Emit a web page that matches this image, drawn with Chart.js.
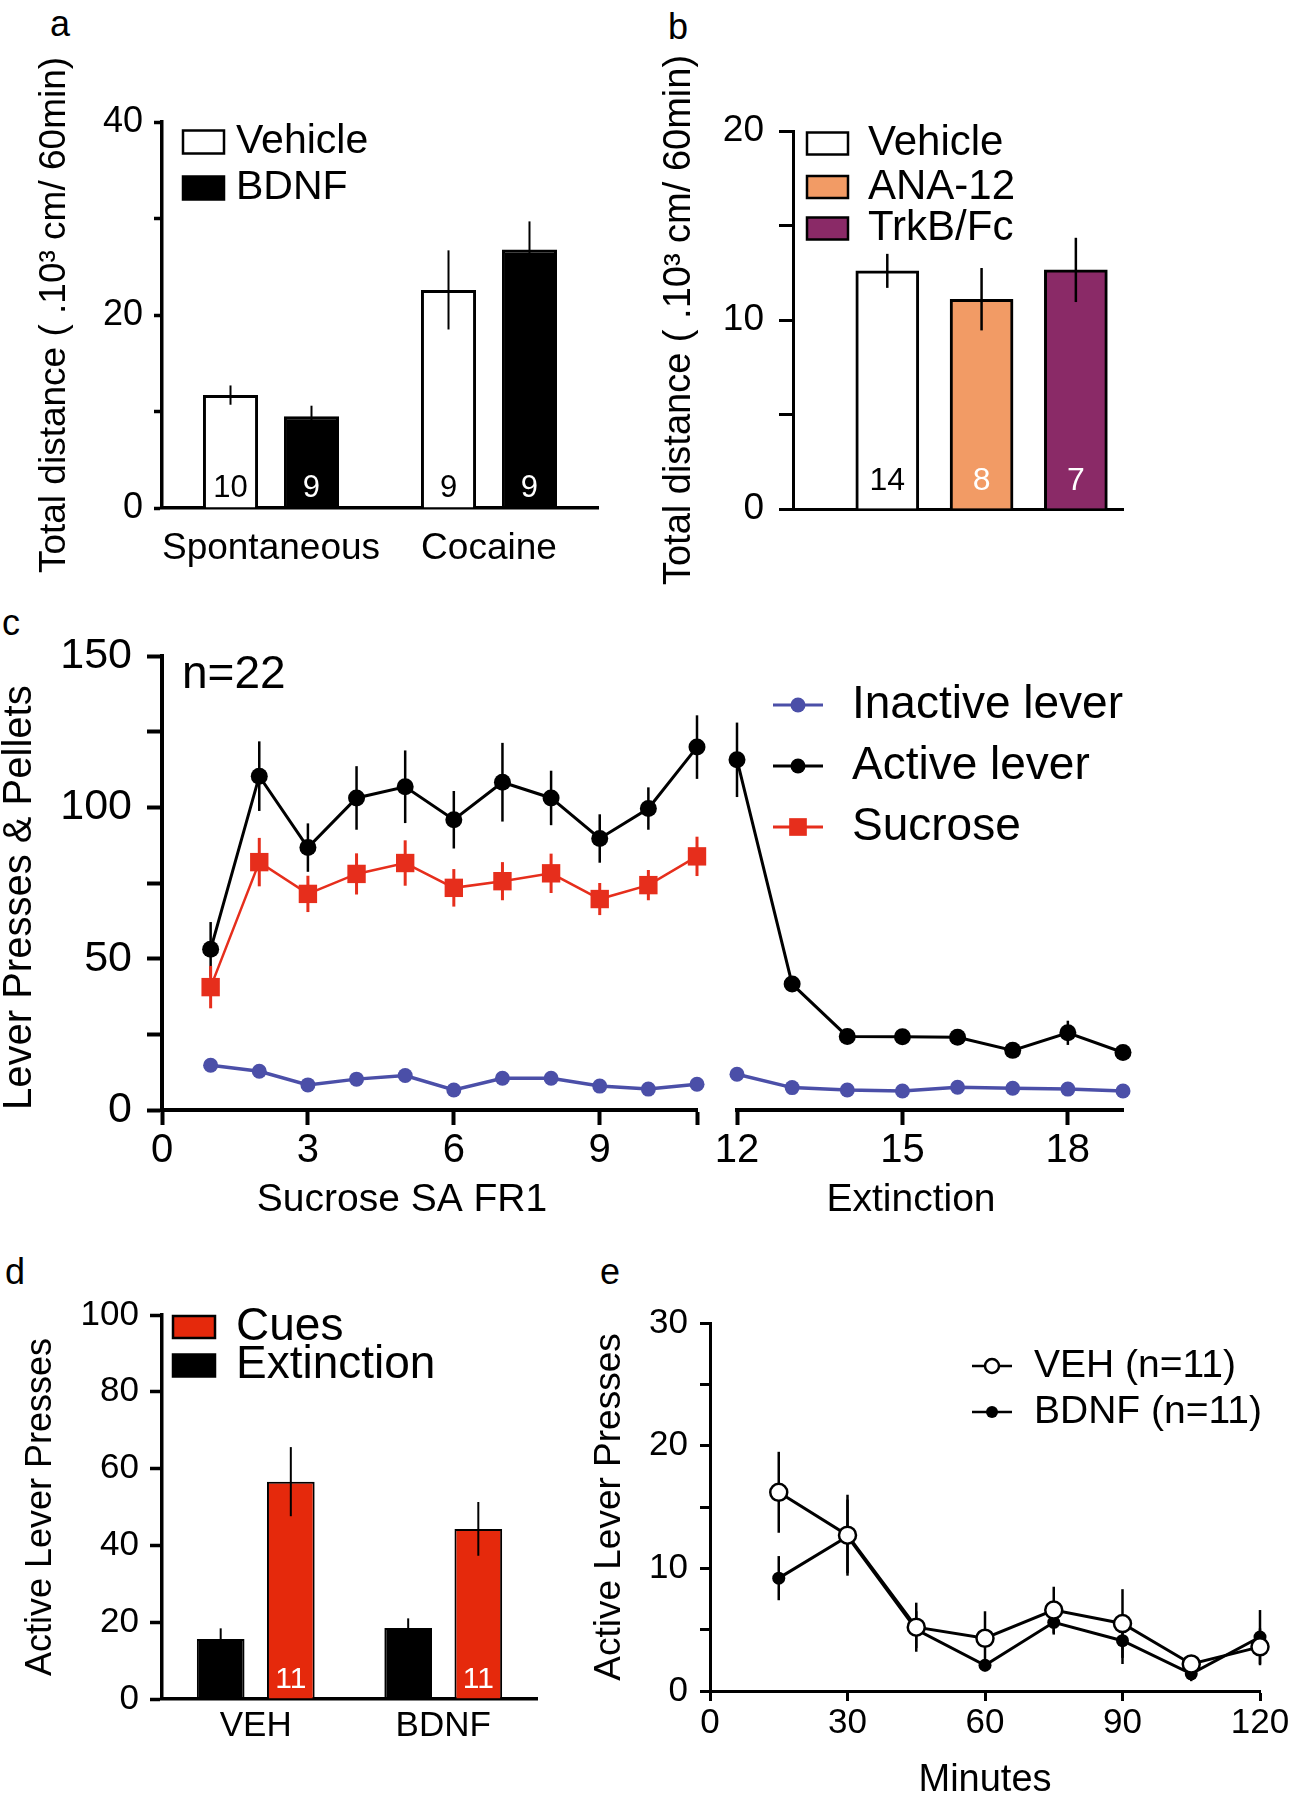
<!DOCTYPE html>
<html lang="en">
<head>
<meta charset="utf-8">
<title>BDNF, locomotion and sucrose seeking</title>
<script src="https://cdn.jsdelivr.net/npm/chart.js@4.4.1/dist/chart.umd.min.js"></script>
<style>
  body { margin: 0; background: #ffffff; }
  #figure { position: relative; width: 1293px; height: 1800px; overflow: hidden; }
  #figure canvas { position: absolute; }
  .letter { position: absolute; font: 36px/36px 'Liberation Sans', Arial, sans-serif; color: #000; }
</style>
</head>
<body>
<div id="figure">
  <div class="letter" style="left:50px;top:6px">a</div>
  <div class="letter" style="left:668px;top:9px">b</div>
  <div class="letter" style="left:2px;top:605px">c</div>
  <div class="letter" style="left:5px;top:1254px">d</div>
  <div class="letter" style="left:600px;top:1254px">e</div>
  <canvas id="chartA" width="640" height="600" style="left:0px;top:0px"></canvas>
  <canvas id="chartB" width="653" height="600" style="left:640px;top:0px"></canvas>
  <canvas id="chartC1" width="717" height="640" style="left:0px;top:600px"></canvas>
  <canvas id="chartC2" width="576" height="640" style="left:717px;top:600px"></canvas>
  <canvas id="chartD" width="560" height="560" style="left:0px;top:1240px"></canvas>
  <canvas id="chartE" width="733" height="560" style="left:560px;top:1240px"></canvas>
</div>
<script>
// ---- panel a: locomotion after intra-accumbens BDNF ----
const aGroups = ['Spontaneous', 'Cocaine'];
const aVehicle = [11.7, 22.6];
const aVehicleSem = [1.0, 4.1];
const aVehicleN = [10, 9];
const aBdnf = [9.5, 26.8];
const aBdnfSem = [1.1, 2.9];
const aBdnfN = [9, 9];
const aYLabels = [0, 20, 40];

// ---- panel b: TrkB blockade ----
const bGroups = ['Vehicle', 'ANA-12', 'TrkB/Fc'];
const bMeans = [12.6, 11.1, 12.65];
const bSem = [0.9, 1.65, 1.7];
const bN = [14, 8, 7];
const bColors = ['#ffffff', '#f29b65', '#8a2a67'];
const bNColors = ['#000000', '#ffffff', '#ffffff'];
const bYLabels = [0, 10, 20];

// ---- panel c: sucrose self-administration then extinction ----
const cSessions = [1, 2, 3, 4, 5, 6, 7, 8, 9, 10, 11, 12, 13, 14, 15, 16, 17, 18, 19];
const cInactive = [14.8, 12.8, 8.3, 10.2, 11.4, 6.6, 10.5, 10.5, 7.9, 6.9, 8.5, 11.8, 7.4, 6.6, 6.3, 7.5, 7.2, 6.9, 6.3];
const cInactiveSem = [1.2, 1.0, 0.8, 0.9, 1.0, 0.7, 0.9, 0.9, 0.8, 0.7, 0.8, 1.0, 0.8, 0.7, 0.7, 0.8, 0.7, 0.7, 0.6];
const cActive = [53.1, 110.3, 86.7, 103.1, 106.8, 95.9, 108.3, 103.1, 89.7, 99.6, 119.9, 115.7, 41.6, 24.3, 24.2, 24.0, 19.7, 25.5, 19.0];
const cActiveSem = [9.0, 11.5, 8.0, 10.5, 12.0, 9.5, 13.0, 9.0, 8.0, 7.0, 10.5, 12.3, 2.5, 1.2, 1.0, 1.0, 1.5, 4.0, 1.2];
const cSucrose = [40.6, 81.9, 71.4, 78.0, 81.6, 73.4, 75.6, 78.2, 69.7, 74.3, 83.8];
const cSucroseSem = [7.0, 8.0, 6.0, 6.8, 7.5, 6.2, 6.3, 6.5, 5.3, 5.0, 6.5];
const cTicksSA = [0, 3, 6, 9];
const cTicksExt = [12, 15, 18];
const cYLabels = [0, 50, 100, 150];
const cSeriesNames = ['Inactive lever', 'Active lever', 'Sucrose'];

// ---- panel d: cue-induced reinstatement ----
const dGroups = ['VEH', 'BDNF'];
const dExtinction = [15.6, 18.5];
const dExtinctionSem = [2.8, 2.5];
const dCues = [56.6, 44.3];
const dCuesSem = [9.0, 7.0];
const dCuesN = [11, 11];
const dYLabels = [0, 20, 40, 60, 80, 100];

// ---- panel e: time course of the reinstatement session ----
const eMinutes = [15, 30, 45, 60, 75, 90, 105, 120];
const eVeh = [16.2, 12.7, 5.2, 4.3, 6.6, 5.5, 2.2, 3.6];
const eVehSem = [3.3, 3.3, 2.0, 2.2, 1.9, 2.8, 0.6, 1.5];
const eBdnf = [9.2, 12.6, 5.0, 2.1, 5.6, 4.1, 1.4, 4.4];
const eBdnfSem = [1.8, 3.0, 1.5, 0.5, 1.0, 1.9, 0.6, 2.2];
const eTicks = [0, 30, 60, 90, 120];
const eYLabels = [0, 10, 20, 30];

const SANS = "'Liberation Sans', Arial, Helvetica, sans-serif";
Chart.defaults.font.family = SANS;
Chart.defaults.color = '#000';
Chart.defaults.animation = false;
Chart.defaults.plugins.legend.display = false;
Chart.defaults.plugins.tooltip.enabled = false;

const INACTIVE = '#4b4fa8';
const SUCROSE_RED = '#e62e1c';
const CUE_RED = '#e5290c';

function offsetOf(chart) {
    return { x: chart.canvas.offsetLeft, y: chart.canvas.offsetTop };
}

function markerPath(ctx, style, x, y, r) {
    ctx.beginPath();
    if (style === 'rect') {
        const h = r * Math.SQRT1_2;
        ctx.rect(x - h, y - h, 2 * h, 2 * h);
    } else {
        ctx.arc(x, y, r, 0, Math.PI * 2);
    }
}

function drawErrorBars(chart) {
    const ctx = chart.ctx;
    chart.data.datasets.forEach((ds, i) => {
        if (!ds.errorBars) return;
        const meta = chart.getDatasetMeta(i);
        const yScale = chart.scales[meta.yAxisID];
        ctx.save();
        ctx.strokeStyle = ds.errorColor || '#000';
        ctx.lineWidth = ds.errorWidth || 2;
        meta.data.forEach((el, j) => {
            const d = ds.data[j];
            const v = typeof d === 'object' ? d.y : d;
            const e = ds.errorBars[j];
            ctx.beginPath();
            ctx.moveTo(el.x, yScale.getPixelForValue(v - e));
            ctx.lineTo(el.x, yScale.getPixelForValue(v + e));
            ctx.stroke();
        });
        ctx.restore();
    });
}

// error bars: under the markers for line charts, over the bars for bar charts
const errorBarPlugin = {
    id: 'errorBars',
    beforeDatasetsDraw(chart, args, opts) { if (!opts.above) drawErrorBars(chart); },
    afterDatasetsDraw(chart, args, opts) { if (opts.above) drawErrorBars(chart); }
};

// group sizes written at the foot of each bar
const nLabelPlugin = {
    id: 'nLabels',
    afterDatasetsDraw(chart, args, opts) {
        const ctx = chart.ctx;
        ctx.save();
        ctx.font = opts.font + 'px ' + SANS;
        ctx.textAlign = 'center';
        ctx.textBaseline = 'middle';
        chart.data.datasets.forEach((ds, i) => {
            if (!ds.nCounts) return;
            chart.getDatasetMeta(i).data.forEach((bar, j) => {
                ctx.fillStyle = Array.isArray(ds.nColor) ? ds.nColor[j] : ds.nColor;
                ctx.fillText(String(ds.nCounts[j]), bar.x, chart.chartArea.bottom - opts.offset);
            });
        });
        ctx.restore();
    }
};

// Prism-style key drawn inside the plot (page coordinates)
const keyPlugin = {
    id: 'key',
    afterDraw(chart, args, o) {
        if (!o.items) return;
        const ctx = chart.ctx;
        const off = offsetOf(chart);
        ctx.save();
        ctx.font = o.font + 'px ' + SANS;
        ctx.textBaseline = 'middle';
        ctx.textAlign = 'left';
        o.items.forEach((it, i) => {
            const cy = o.rows[i] - off.y;
            const x0 = o.x0 - off.x;
            const x1 = o.x1 - off.x;
            if (it.kind === 'box') {
                ctx.fillStyle = it.fill;
                ctx.fillRect(x0, cy - o.boxH / 2, x1 - x0, o.boxH);
                ctx.lineWidth = o.boxBorder;
                ctx.strokeStyle = '#000';
                ctx.strokeRect(x0, cy - o.boxH / 2, x1 - x0, o.boxH);
            } else {
                ctx.strokeStyle = it.color;
                ctx.lineWidth = it.lineWidth;
                ctx.beginPath();
                ctx.moveTo(x0, cy);
                ctx.lineTo(x1, cy);
                ctx.stroke();
                markerPath(ctx, it.pointStyle, (x0 + x1) / 2, cy, it.radius);
                ctx.fillStyle = it.pointFill;
                ctx.fill();
                if (it.pointBorder) {
                    ctx.lineWidth = it.pointBorder;
                    ctx.strokeStyle = it.color;
                    ctx.stroke();
                }
            }
            ctx.fillStyle = '#000';
            ctx.fillText(it.text, o.textX - off.x, cy);
        });
        ctx.restore();
    }
};

// free text (page coordinates)
const notePlugin = {
    id: 'notes',
    afterDraw(chart, args, o) {
        if (!o.items) return;
        const ctx = chart.ctx;
        const off = offsetOf(chart);
        ctx.save();
        ctx.fillStyle = '#000';
        ctx.textBaseline = 'middle';
        o.items.forEach(n => {
            ctx.font = n.size + 'px ' + SANS;
            ctx.textAlign = n.align || 'center';
            ctx.fillText(n.text, n.x - off.x, n.y - off.y);
        });
        ctx.restore();
    }
};

const allPlugins = [errorBarPlugin, nLabelPlugin, keyPlugin, notePlugin];

function valueAxis(o) {
    return {
        min: o.min,
        max: o.max,
        afterFit: s => { s.width = o.width; s.paddingTop = 0; s.paddingBottom = 0; },
        ticks: {
            stepSize: o.step,
            autoSkip: false,
            padding: o.pad,
            font: { size: o.font, lineHeight: 1 },
            callback: v => (o.labels.includes(v) ? String(v) : '')
        },
        grid: { drawOnChartArea: false, drawTicks: true, tickLength: o.tick, tickWidth: o.line, tickColor: '#000' },
        border: { display: true, color: '#000', width: o.line },
        title: {
            display: true,
            text: o.title,
            align: o.align || 'center',
            font: { size: o.titleSize, lineHeight: 1 },
            padding: { top: o.titlePad, bottom: 0 }
        }
    };
}

function groupAxis(o) {
    return {
        afterFit: s => { s.height = o.height; s.paddingLeft = 0; s.paddingRight = 0; },
        grid: { display: false, drawTicks: false },
        border: { display: true, color: '#000', width: o.line },
        ticks: { padding: o.pad, font: { size: o.font, lineHeight: 1 }, autoSkip: false, maxRotation: 0, minRotation: 0 }
    };
}

function numberAxis(o) {
    return {
        type: 'linear',
        min: o.min,
        max: o.max,
        offset: false,
        afterFit: s => { s.height = o.height; s.paddingLeft = 0; s.paddingRight = 0; },
        afterBuildTicks: s => { s.ticks = o.ticks.map(v => ({ value: v })); },
        grid: { offset: false, drawOnChartArea: false, drawTicks: true, tickLength: o.tick, tickWidth: o.line, tickColor: '#000' },
        border: { display: true, color: '#000', width: o.line },
        ticks: {
            padding: o.pad,
            font: { size: o.font, lineHeight: 1 },
            autoSkip: false, maxRotation: 0, minRotation: 0,
            callback: v => (o.labels.includes(v) ? String(v) : '')
        },
        title: o.title
            ? { display: true, text: o.title, font: { size: o.titleSize, lineHeight: 1 }, padding: { top: 0, bottom: 0 } }
            : { display: false }
    };
}

function points(xs, ys) {
    return ys.map((y, i) => ({ x: xs[i], y: y }));
}

// ================= panel a =================
new Chart(document.getElementById('chartA'), {
    type: 'bar',
    data: {
        labels: aGroups,
        datasets: [
            { label: 'Vehicle', data: aVehicle, backgroundColor: '#ffffff', borderColor: '#000', borderWidth: 3,
              errorBars: aVehicleSem, errorWidth: 2, nCounts: aVehicleN, nColor: '#000' },
            { label: 'BDNF', data: aBdnf, backgroundColor: '#000000', borderColor: '#000', borderWidth: 3,
              errorBars: aBdnfSem, errorWidth: 2, nCounts: aBdnfN, nColor: '#fff' }
        ]
    },
    options: {
        responsive: false,
        layout: { padding: { top: 122, right: 42, bottom: 0, left: 0 } },
        datasets: { bar: { categoryPercentage: 0.743, barPercentage: 0.68 } },
        scales: {
            x: groupAxis({ height: 92, line: 3.5, pad: 22, font: 37 }),
            y: valueAxis({ min: 0, max: 40, step: 10, labels: aYLabels, width: 162, tick: 8, line: 3.5, pad: 11, font: 36,
                           title: 'Total distance ( .10\u00B3 cm/ 60min)', titleSize: 37, titlePad: 36 })
        },
        plugins: {
            errorBars: { above: true },
            nLabels: { offset: 20, font: 31 },
            key: {
                x0: 183, x1: 224, textX: 236, rows: [142, 188], boxH: 23, boxBorder: 2.5, font: 41,
                items: [
                    { kind: 'box', text: 'Vehicle', fill: '#ffffff' },
                    { kind: 'box', text: 'BDNF', fill: '#000000' }
                ]
            }
        }
    },
    plugins: allPlugins
});

// ================= panel b =================
new Chart(document.getElementById('chartB'), {
    type: 'bar',
    data: {
        datasets: [{
            label: 'Total distance',
            data: bMeans.map((v, i) => ({ x: i + 1, y: v })),
            backgroundColor: bColors, borderColor: '#000', borderWidth: 3, barThickness: 63,
            errorBars: bSem, errorWidth: 2.5, nCounts: bN, nColor: bNColors
        }]
    },
    options: {
        responsive: false,
        layout: { padding: { top: 131, right: 170, bottom: 0, left: 0 } },
        scales: {
            x: {
                type: 'linear', min: 0, max: bGroups.length + 0.5, offset: false,
                afterFit: s => { s.height = 91; s.paddingLeft = 0; s.paddingRight = 0; },
                grid: { display: false, drawTicks: false },
                ticks: { display: false },
                border: { display: true, color: '#000', width: 3 }
            },
            y: valueAxis({ min: 0, max: 20, step: 5, labels: bYLabels, width: 153, tick: 14, line: 3, pad: 15, font: 37,
                           title: 'Total distance ( .10\u00B3 cm/ 60min)', titleSize: 38, titlePad: 21 })
        },
        plugins: {
            errorBars: { above: true },
            nLabels: { offset: 28, font: 32 },
            key: {
                x0: 807, x1: 848, textX: 868, rows: [143.5, 187, 228.5], boxH: 22, boxBorder: 2.5, font: 42,
                items: bGroups.map((g, i) => ({ kind: 'box', text: g, fill: bColors[i] }))
            }
        }
    },
    plugins: allPlugins
});

// ================= panel c (broken x axis: two plots) =================
const nSA = cSucrose.length;             // self-administration sessions
const saSessions = cSessions.slice(0, nSA);
const extSessions = cSessions.slice(nSA);

const inactiveStyle = { borderColor: INACTIVE, backgroundColor: INACTIVE, borderWidth: 3.5, pointRadius: 7.5,
                        pointBackgroundColor: INACTIVE, pointBorderColor: INACTIVE, pointBorderWidth: 0,
                        errorColor: INACTIVE, errorWidth: 2.5 };
const activeStyle = { borderColor: '#000', backgroundColor: '#000', borderWidth: 3, pointRadius: 8.5,
                      pointBackgroundColor: '#000', pointBorderColor: '#000', pointBorderWidth: 0,
                      errorColor: '#000', errorWidth: 2.5 };
const sucroseStyle = { borderColor: SUCROSE_RED, backgroundColor: SUCROSE_RED, borderWidth: 2.5, pointRadius: 13,
                       pointStyle: 'rect', pointBackgroundColor: SUCROSE_RED, pointBorderColor: SUCROSE_RED,
                       pointBorderWidth: 0, errorColor: SUCROSE_RED, errorWidth: 3 };

const lineCommon = { fill: false, tension: 0, clip: false, pointHoverRadius: 0 };

new Chart(document.getElementById('chartC1'), {
    type: 'line',
    data: {
        datasets: [
            Object.assign({ label: cSeriesNames[0], data: points(saSessions, cInactive.slice(0, nSA)),
                            errorBars: cInactiveSem.slice(0, nSA) }, lineCommon, inactiveStyle),
            Object.assign({ label: cSeriesNames[1], data: points(saSessions, cActive.slice(0, nSA)),
                            errorBars: cActiveSem.slice(0, nSA) }, lineCommon, activeStyle),
            Object.assign({ label: cSeriesNames[2], data: points(saSessions, cSucrose),
                            errorBars: cSucroseSem }, lineCommon, sucroseStyle)
        ]
    },
    options: {
        responsive: false,
        layout: { padding: { top: 56, right: 20, bottom: 0, left: 0 } },
        scales: {
            x: numberAxis({ min: 0, max: nSA, ticks: cTicksSA.concat([nSA]), labels: cTicksSA, height: 130,
                            tick: 15, line: 4, pad: 6, font: 40 }),
            y: valueAxis({ min: 0, max: 150, step: 25, labels: cYLabels, width: 162, tick: 15, line: 4, pad: 15, font: 43,
                           title: 'Lever Presses & Pellets', titleSize: 40, titlePad: 0, align: 'start' })
        },
        plugins: {
            errorBars: { above: false },
            notes: {
                items: [
                    { text: 'n=22', x: 182, y: 675, size: 46, align: 'left' },
                    { text: 'Sucrose SA FR1', x: 402, y: 1200, size: 39 }
                ]
            }
        }
    },
    plugins: allPlugins
});

new Chart(document.getElementById('chartC2'), {
    type: 'line',
    data: {
        datasets: [
            Object.assign({ label: cSeriesNames[0], data: points(extSessions, cInactive.slice(nSA)),
                            errorBars: cInactiveSem.slice(nSA) }, lineCommon, inactiveStyle),
            Object.assign({ label: cSeriesNames[1], data: points(extSessions, cActive.slice(nSA)),
                            errorBars: cActiveSem.slice(nSA) }, lineCommon, activeStyle)
        ]
    },
    options: {
        responsive: false,
        layout: { padding: { top: 56, right: 170, bottom: 0, left: 20 } },
        scales: {
            x: numberAxis({ min: extSessions[0], max: extSessions[extSessions.length - 1], ticks: cTicksExt,
                            labels: cTicksExt, height: 130, tick: 15, line: 4, pad: 6, font: 40 }),
            y: { min: 0, max: 150, display: false }
        },
        plugins: {
            errorBars: { above: false },
            key: {
                x0: 773, x1: 823, textX: 852, rows: [705, 766, 827], font: 46,
                items: [
                    { kind: 'line', text: cSeriesNames[0], color: INACTIVE, lineWidth: 3, pointStyle: 'circle', radius: 7.5, pointFill: INACTIVE },
                    { kind: 'line', text: cSeriesNames[1], color: '#000', lineWidth: 3, pointStyle: 'circle', radius: 7.5, pointFill: '#000' },
                    { kind: 'line', text: cSeriesNames[2], color: SUCROSE_RED, lineWidth: 3, pointStyle: 'rect', radius: 12.5, pointFill: SUCROSE_RED }
                ]
            },
            notes: { items: [{ text: 'Extinction', x: 911, y: 1200, size: 39 }] }
        }
    },
    plugins: allPlugins
});

// ================= panel d =================
new Chart(document.getElementById('chartD'), {
    type: 'bar',
    data: {
        labels: dGroups,
        datasets: [
            { label: 'Extinction', data: dExtinction, backgroundColor: '#000', borderColor: '#000', borderWidth: 2,
              errorBars: dExtinctionSem, errorWidth: 2 },
            { label: 'Cues', data: dCues, backgroundColor: CUE_RED, borderColor: '#000', borderWidth: 2,
              errorBars: dCuesSem, errorWidth: 2, nCounts: dCuesN, nColor: '#fff' }
        ]
    },
    options: {
        responsive: false,
        layout: { padding: { top: 75, right: 23, bottom: 0, left: 0 } },
        datasets: { bar: { categoryPercentage: 0.748, barPercentage: 0.68 } },
        scales: {
            x: groupAxis({ height: 101, line: 3.5, pad: 9.5, font: 35 }),
            y: valueAxis({ min: 0, max: 100, step: 20, labels: dYLabels, width: 162, tick: 12, line: 3.5, pad: 11, font: 35,
                           title: 'Active Lever Presses', titleSize: 36, titlePad: 23 })
        },
        plugins: {
            errorBars: { above: true },
            nLabels: { offset: 19, font: 30 },
            key: {
                x0: 173, x1: 215, textX: 236, rows: [1327, 1365.5], boxH: 22, boxBorder: 2.5, font: 46,
                items: [
                    { kind: 'box', text: 'Cues', fill: CUE_RED },
                    { kind: 'box', text: 'Extinction', fill: '#000' }
                ]
            }
        }
    },
    plugins: allPlugins
});

// ================= panel e =================
new Chart(document.getElementById('chartE'), {
    type: 'line',
    data: {
        datasets: [
            Object.assign({ label: 'VEH (n=11)', data: points(eMinutes, eVeh), errorBars: eVehSem,
                            borderColor: '#000', borderWidth: 3, pointRadius: 8.5, pointBorderWidth: 2.5,
                            pointBackgroundColor: '#fff', pointBorderColor: '#000', errorWidth: 2.5 }, lineCommon),
            Object.assign({ label: 'BDNF (n=11)', data: points(eMinutes, eBdnf), errorBars: eBdnfSem,
                            borderColor: '#000', borderWidth: 3, pointRadius: 6.5, pointBorderWidth: 0,
                            pointBackgroundColor: '#000', pointBorderColor: '#000', errorWidth: 2.5 }, lineCommon)
        ]
    },
    options: {
        responsive: false,
        layout: { padding: { top: 83, right: 33, bottom: 0, left: 0 } },
        scales: {
            x: numberAxis({ min: 0, max: 120, ticks: eTicks, labels: eTicks, height: 109, tick: 10, line: 3, pad: 5,
                            font: 35, title: 'Minutes', titleSize: 38 }),
            y: valueAxis({ min: 0, max: 30, step: 5, labels: eYLabels, width: 150, tick: 10, line: 3, pad: 12, font: 35,
                           title: 'Active Lever Presses', titleSize: 37, titlePad: 31 })
        },
        plugins: {
            errorBars: { above: false },
            key: {
                x0: 972, x1: 1012, textX: 1034, rows: [1366, 1412], font: 39,
                items: [
                    { kind: 'line', text: 'VEH (n=11)', color: '#000', lineWidth: 2.5, pointStyle: 'circle', radius: 7, pointFill: '#fff', pointBorder: 2.5 },
                    { kind: 'line', text: 'BDNF (n=11)', color: '#000', lineWidth: 2.5, pointStyle: 'circle', radius: 6, pointFill: '#000' }
                ]
            }
        }
    },
    plugins: allPlugins
});
</script>
</body>
</html>
